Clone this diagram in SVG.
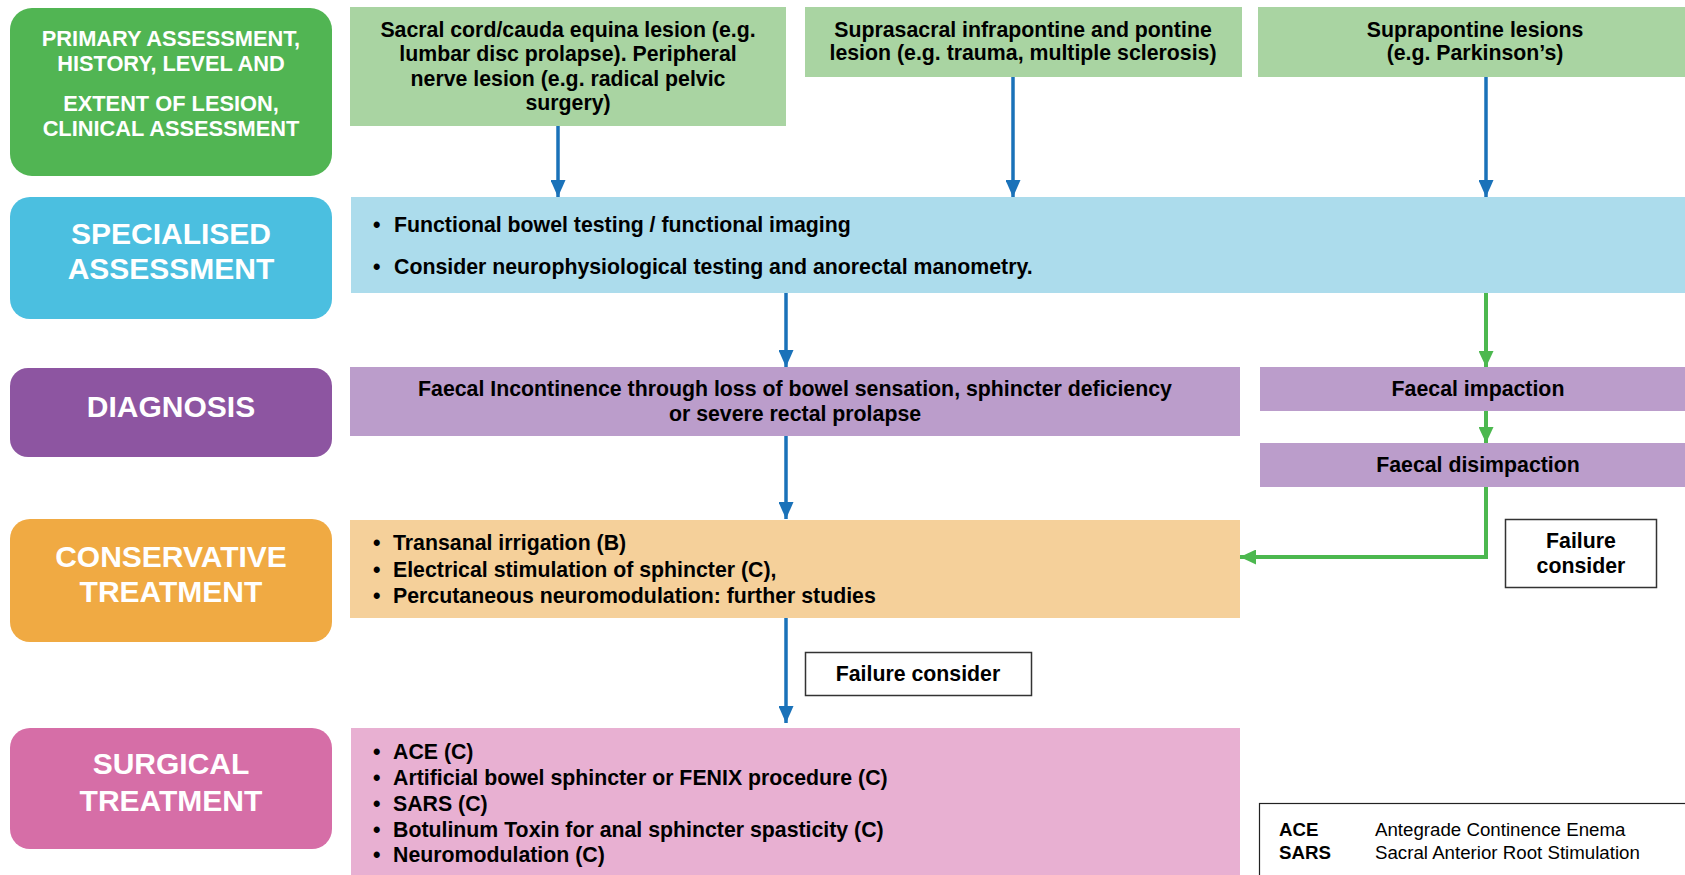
<svg xmlns="http://www.w3.org/2000/svg" width="1685" height="875" viewBox="0 0 1685 875">
<defs>
<style>
.lbl{font-family:"Liberation Sans",Arial,sans-serif;font-weight:bold;fill:#ffffff;text-anchor:middle}
.t{font-family:"Liberation Sans",Arial,sans-serif;font-weight:bold;fill:#000000;font-size:21.3px}
.c{text-anchor:middle}
.leg{font-family:"Liberation Sans",Arial,sans-serif;font-size:18.7px;fill:#000}
.blue{stroke:#1a72b9;stroke-width:3.5;fill:none}
.green{stroke:#4cb84f;stroke-width:4;fill:none}
</style>
<marker id="ab" viewBox="0 0 17 15" refX="17" refY="7.5" markerWidth="17" markerHeight="15" markerUnits="userSpaceOnUse" orient="auto">
<path d="M0,0 L17,7.5 L0,15 Z" fill="#1a72b9"/>
</marker>
<marker id="ag" viewBox="0 0 16 15" refX="16" refY="7.5" markerWidth="16" markerHeight="15" markerUnits="userSpaceOnUse" orient="auto">
<path d="M0,0 L16,7.5 L0,15 Z" fill="#4cb84f"/>
</marker>
</defs>
<rect width="1685" height="875" fill="#ffffff"/>

<g id="primary">
<rect x="10" y="8" width="322" height="168" rx="22" fill="#51b553"/>
<text class="lbl" font-size="21.8" x="171" y="46">PRIMARY ASSESSMENT,</text>
<text class="lbl" font-size="21.8" x="171" y="71">HISTORY, LEVEL AND</text>
<text class="lbl" font-size="21.8" x="171" y="111">EXTENT OF LESION,</text>
<text class="lbl" font-size="21.8" x="171" y="136">CLINICAL ASSESSMENT</text>
</g>
<g id="specialised">
<rect x="10" y="197" width="322" height="122" rx="20" fill="#4bbfe0"/>
<text class="lbl" font-size="30" x="171" y="244">SPECIALISED</text>
<text class="lbl" font-size="30" x="171" y="279">ASSESSMENT</text>
</g>
<g id="diagnosis">
<rect x="10" y="368" width="322" height="89" rx="18" fill="#8d55a1"/>
<text class="lbl" font-size="30" x="171" y="417">DIAGNOSIS</text>
</g>
<g id="conservative">
<rect x="10" y="519" width="322" height="123" rx="20" fill="#f0aa43"/>
<text class="lbl" font-size="30" x="171" y="567">CONSERVATIVE</text>
<text class="lbl" font-size="30" x="171" y="602">TREATMENT</text>
</g>
<g id="surgical">
<rect x="10" y="728" width="322" height="121" rx="20" fill="#d66ea7"/>
<text class="lbl" font-size="30" x="171" y="774">SURGICAL</text>
<text class="lbl" font-size="30" x="171" y="811">TREATMENT</text>
</g>

<g id="lesion-sacral">
<rect x="350" y="7" width="436" height="119" fill="#a9d4a2"/>
<text class="t c" x="568" y="37">Sacral cord/cauda equina lesion (e.g.</text>
<text class="t c" x="568" y="61">lumbar disc prolapse). Peripheral</text>
<text class="t c" x="568" y="86">nerve lesion (e.g. radical pelvic</text>
<text class="t c" x="568" y="110">surgery)</text>
</g>
<g id="lesion-suprasacral">
<rect x="805" y="7" width="437" height="70" fill="#a9d4a2"/>
<text class="t c" x="1023" y="37">Suprasacral infrapontine and pontine</text>
<text class="t c" x="1023" y="60">lesion (e.g. trauma, multiple sclerosis)</text>
</g>
<g id="lesion-suprapontine">
<rect x="1258" y="7" width="427" height="70" fill="#a9d4a2"/>
<text class="t c" x="1475" y="37">Suprapontine lesions</text>
<text class="t c" x="1475" y="60">(e.g. Parkinson’s)</text>
</g>

<g id="specialised-content">
<rect x="351" y="197" width="1334" height="96" fill="#acdcec"/>
<text class="t" x="373" y="232">•</text>
<text class="t" x="394" y="232">Functional bowel testing / functional imaging</text>
<text class="t" x="373" y="274">•</text>
<text class="t" x="394" y="274">Consider neurophysiological testing and anorectal manometry.</text>
</g>

<g id="diagnosis-incontinence">
<rect x="350" y="367" width="890" height="69" fill="#bb9dcb"/>
<text class="t c" x="795" y="396">Faecal Incontinence through loss of bowel sensation, sphincter deficiency</text>
<text class="t c" x="795" y="421">or severe rectal prolapse</text>
</g>
<g id="faecal-impaction">
<rect x="1260" y="367" width="425" height="44" fill="#bb9dcb"/>
<text class="t c" x="1478" y="396">Faecal impaction</text>
</g>
<g id="faecal-disimpaction">
<rect x="1260" y="443" width="425" height="44" fill="#bb9dcb"/>
<text class="t c" x="1478" y="472">Faecal disimpaction</text>
</g>

<g id="conservative-content">
<rect x="350" y="520" width="890" height="98" fill="#f5d09a"/>
<text class="t" x="373" y="550">•</text>
<text class="t" x="393" y="550">Transanal irrigation (B)</text>
<text class="t" x="373" y="577">•</text>
<text class="t" x="393" y="577">Electrical stimulation of sphincter (C),</text>
<text class="t" x="373" y="603">•</text>
<text class="t" x="393" y="603">Percutaneous neuromodulation: further studies</text>
</g>

<g id="failure-right">
<rect x="1505.5" y="519.5" width="151" height="68" fill="#ffffff" stroke="#333333" stroke-width="1.5"/>
<text class="t c" x="1581" y="548">Failure</text>
<text class="t c" x="1581" y="573">consider</text>
</g>
<g id="failure-middle">
<rect x="805.5" y="652.5" width="226" height="43" fill="#ffffff" stroke="#333333" stroke-width="1.5"/>
<text class="t c" x="918" y="681">Failure consider</text>
</g>

<g id="surgical-content">
<rect x="351" y="728" width="889" height="147" fill="#e8b0d2"/>
<text class="t" x="373" y="759">•</text>
<text class="t" x="393" y="759">ACE (C)</text>
<text class="t" x="373" y="785">•</text>
<text class="t" x="393" y="785">Artificial bowel sphincter or FENIX procedure (C)</text>
<text class="t" x="373" y="811">•</text>
<text class="t" x="393" y="811">SARS (C)</text>
<text class="t" x="373" y="837">•</text>
<text class="t" x="393" y="837">Botulinum Toxin for anal sphincter spasticity (C)</text>
<text class="t" x="373" y="862">•</text>
<text class="t" x="393" y="862">Neuromodulation (C)</text>
</g>

<g id="legend">
<rect x="1259.5" y="803.5" width="440" height="90" fill="#ffffff" stroke="#222222" stroke-width="1.2"/>
<text class="leg" font-weight="bold" x="1279" y="836">ACE</text>
<text class="leg" x="1375" y="836">Antegrade Continence Enema</text>
<text class="leg" font-weight="bold" x="1279" y="859">SARS</text>
<text class="leg" x="1375" y="859">Sacral Anterior Root Stimulation</text>
</g>

<g id="connectors">
<line class="blue" x1="558" y1="126" x2="558" y2="197" marker-end="url(#ab)"/>
<line class="blue" x1="1013" y1="77" x2="1013" y2="197" marker-end="url(#ab)"/>
<line class="blue" x1="1486" y1="77" x2="1486" y2="197" marker-end="url(#ab)"/>
<line class="blue" x1="786" y1="293" x2="786" y2="367" marker-end="url(#ab)"/>
<line class="green" x1="1486" y1="293" x2="1486" y2="367" marker-end="url(#ag)"/>
<line class="green" x1="1486" y1="411" x2="1486" y2="443" marker-end="url(#ag)"/>
<polyline class="green" points="1486,487 1486,557 1240,557" marker-end="url(#ag)"/>
<line class="blue" x1="786" y1="436" x2="786" y2="519" marker-end="url(#ab)"/>
<line class="blue" x1="786" y1="618" x2="786" y2="723" marker-end="url(#ab)"/>
</g>
</svg>
